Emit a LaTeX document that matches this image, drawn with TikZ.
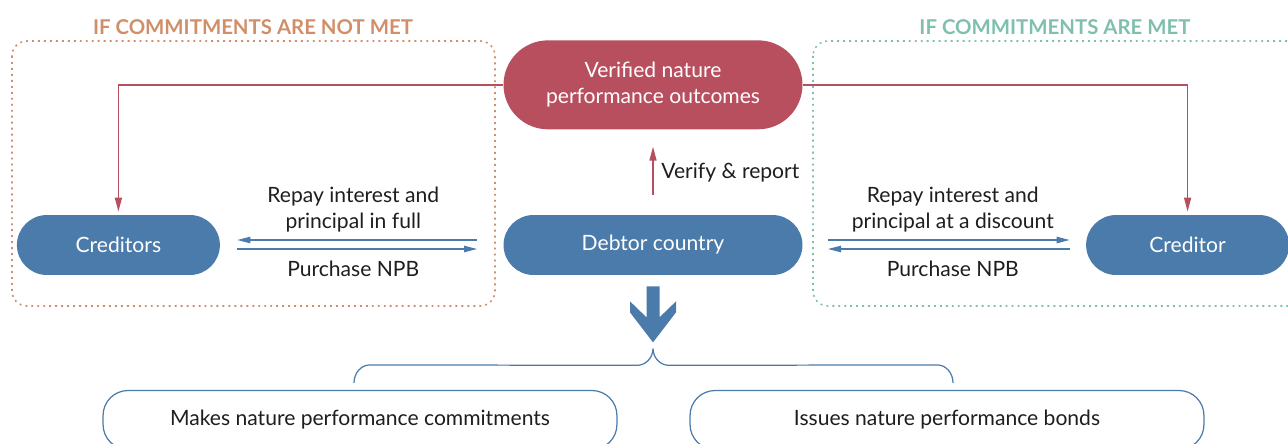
\documentclass[tikz,border=0pt]{standalone}
\usepackage{fontspec}
\setmainfont{Lato}
\usepackage{xcolor}
\usetikzlibrary{arrows.meta, positioning, calc}
\definecolor{npbred}{HTML}{B74F5F}
\definecolor{npbblue}{HTML}{4A7BAA}
\definecolor{notmet}{HTML}{D08F68}
\definecolor{met}{HTML}{7EBFAE}
\definecolor{npbtext}{HTML}{1E1E1E}
\tikzstyle{pill} = [rectangle, rounded corners=0.6cm, minimum width=4.06cm, minimum height=1.2cm, text centered, fill=npbblue, text=white, font=\fontsize{12}{14.8}\selectfont]
\tikzstyle{outcome} = [pill, rounded corners=0.89cm, fill=npbred, minimum width=5.98cm, minimum height=1.78cm, align=center]
\tikzstyle{action} = [rectangle, rounded corners=0.5cm, minimum width=10.28cm, minimum height=1.18cm, draw=npbblue, line width=0.7pt, text=npbtext, font=\fontsize{12}{14.8}\selectfont]
\tikzstyle{title} = [font=\fontsize{11.6}{13}\selectfont\bfseries]
\tikzstyle{frame} = [line width=0.9pt, dash pattern=on 1.1pt off 2.3pt, rounded corners=0.3cm]
\tikzstyle{redarrow} = [line width=0.85pt, draw=npbred, -{Triangle[length=8pt,width=4pt]}]
\tikzstyle{bluearrow} = [line width=0.85pt, draw=npbblue, -{Triangle[length=7.5pt,width=3.6pt]}]
\tikzstyle{lbl} = [text=npbtext, align=center, font=\fontsize{12}{14.8}\selectfont]

\begin{document}
\begin{tikzpicture}[x=0.02cm, y=-0.02cm]
\clip (0,0) rectangle (1288,443);

% Frames
\draw [frame, draw=notmet] (12,41) rectangle (495,306);
\draw [frame, draw=met] (813,41) rectangle (1310,306);
\node (nottitle) [title, text=notmet] at (253,27) {IF COMMITMENTS ARE NOT MET};
\node (mettitle) [title, text=met] at (1055,27) {IF COMMITMENTS ARE MET};

% Debtor
\node (debtor) [pill, minimum width=5.98cm] at (653,245) {Debtor country};

% Outcomes
\node (verified) [outcome, above=1.7cm of debtor] {Verified nature\\performance outcomes};

% Creditors
\node (creditors) [pill, left=5.66cm of debtor] {Creditors};
\node (creditor) [pill, right=5.66cm of debtor] {Creditor};

% Bottom
\node (commit) [action] at (360,420) {Makes nature performance commitments};
\node (bonds) [action] at (947,420) {Issues nature performance bonds};

% Red arrows
\draw [redarrow, shorten >=0.06cm] (verified.west) -| (creditors.north);
\draw [redarrow, shorten >=0.06cm] (verified.east) -| (creditor.north);
\draw [redarrow, shorten <=0.4cm, shorten >=0.34cm] (debtor.north) -- node[lbl, right=1pt] {Verify \& report} (verified.south);

% Not met
\draw [bluearrow, shorten <=0.52cm, shorten >=0.34cm] ([yshift=0.1cm]debtor.west) -- node[lbl, pos=0.53, above=1pt] {Repay interest and\\principal in full} ([yshift=0.1cm]creditors.east);
\draw [bluearrow, shorten <=0.34cm, shorten >=0.52cm] ([yshift=-0.08cm]creditors.east) -- node[lbl, pos=0.47, below=3pt] {Purchase NPB} ([yshift=-0.08cm]debtor.west);

% Met
\draw [bluearrow, shorten <=0.5cm, shorten >=0.32cm] ([yshift=0.1cm]debtor.east) -- node[lbl, pos=0.53, above=1pt] {Repay interest and\\principal at a discount} ([yshift=0.1cm]creditor.west);
\draw [bluearrow, shorten <=0.32cm, shorten >=0.5cm] ([yshift=-0.08cm]creditor.west) -- node[lbl, pos=0.47, below=3pt] {Purchase NPB} ([yshift=-0.08cm]debtor.east);

% Block arrow
\fill [npbblue, shift={(debtor.south)}] (-6.5,11) -- (6.5,11) -- (6.5,42) -- (23,26) -- (23,37) -- (0,67) -- (-23,37) -- (-23,26) -- (-6.5,42) -- cycle;

% Brace
\coordinate (brl) at ($(commit.north)+(-6,-7)$);
\coordinate (brr) at ($(bonds.north)+(6,-7)$);
\coordinate (brtip) at ($(debtor.south)+(0,73)$);
\draw [npbblue, line width=0.7pt] (brl) to[out=90,in=180] ++(16,-18) -- ($(brtip)+(-16,17)$) to[out=0,in=-90] (brtip) to[out=-90,in=180] ++(16,17) -- ($(brr)+(-16,-18)$) to[out=0,in=90] (brr);

\end{tikzpicture}
\end{document}
